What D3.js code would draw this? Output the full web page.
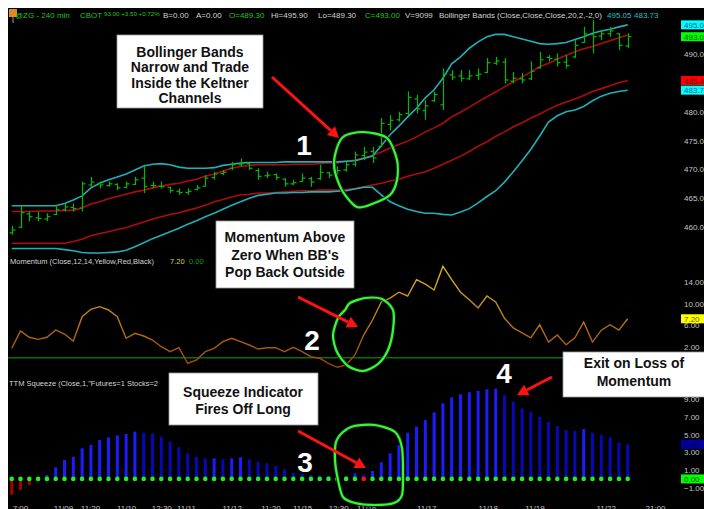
<!DOCTYPE html>
<html><head><meta charset="utf-8">
<script src="https://cdn.jsdelivr.net/npm/d3@7"></script>
<style>
html,body{margin:0;padding:0;background:#fff;}
svg{display:block;}
text{font-family:"Liberation Sans",Arial,sans-serif;}
</style></head><body>
<svg id="chart" width="704" height="509"></svg>
<script>
// ---------------- DATA ----------------
const opens  = [459.0,460.0,462.3,461.6,461.4,462.2,463.0,463.4,463.3,467.3,467.6,467.2,467.4,466.9,467.4,468.5,467.2,467.1,466.9,466.2,466.0,466.5,467.1,468.6,469.3,470.2,470.8,471.0,469.8,468.9,469.1,468.3,467.5,467.9,468.4,468.4,469.4,
                469.2,469.9,470.9,472.4,473.1,474.0,477.8,478.6,479.7,482.2,480.2,481.9,481.2,486.4,486.2,485.7,486.3,486.8,488.4,488.6,485.3,485.7,485.7,487.6,489.4,489.1,488.6,489.5,492.0,493.4,493.1,493.5,493.5,491.4];
const highs  = [460.2,463.8,462.7,462.7,462.4,463.8,464.1,464.1,467.9,468.7,467.9,467.9,467.6,467.9,468.7,470.8,467.9,467.9,467.0,466.7,466.7,467.3,469.0,469.6,469.9,471.3,471.9,471.1,470.2,469.6,469.3,468.5,468.2,469.3,468.7,470.8,469.6,
                470.5,471.3,473.1,473.9,473.9,478.9,479.4,480.0,483.5,482.9,482.0,483.5,487.5,487.2,487.2,487.2,487.5,489.3,489.5,489.3,486.9,486.7,488.7,490.4,489.8,490.1,489.8,492.4,494.7,495.9,494.2,494.7,493.6,493.6];
const lows   = [458.7,459.8,461.0,461.0,461.0,462.1,462.7,462.7,462.7,467.0,466.7,467.0,466.4,466.7,467.3,465.9,466.7,466.7,465.9,465.6,465.6,466.4,467.0,468.2,469.0,469.9,470.5,469.9,468.2,468.5,468.2,467.0,467.3,467.9,467.0,468.2,468.5,
                469.0,469.6,470.5,471.6,471.1,473.9,476.8,478.3,479.4,479.7,478.6,481.7,480.3,485.5,485.2,485.5,485.5,486.7,488.1,484.9,484.9,484.9,485.5,487.5,488.7,487.8,487.5,489.3,491.9,490.1,492.4,493.0,490.7,491.0];
const closes = [459.5,462.5,461.8,461.5,461.8,463.0,463.5,463.2,467.5,467.8,467.3,467.5,466.8,467.5,468.2,467.0,467.2,467.0,466.3,466.0,466.2,466.8,468.5,469.2,469.5,470.8,471.0,470.2,468.8,469.0,468.6,467.5,467.7,468.5,467.8,469.5,469.0,
                469.8,470.8,472.5,473.0,472.0,478.0,478.5,479.5,482.5,480.5,481.0,483.0,486.5,486.0,485.8,486.2,486.5,488.5,488.8,485.5,485.8,485.5,487.0,489.0,489.2,488.5,488.0,491.5,493.5,493.0,493.5,494.0,491.5,493.0];
const bbUpper = [463.7,463.7,463.7,463.7,463.7,463.7,464.1,464.7,465.4,466.8,467.6,468.2,468.7,469.2,469.9,470.6,470.9,471.0,470.8,470.4,470.2,470.2,470.2,470.3,470.7,470.9,471.1,471.2,471.2,471.2,471.2,471.3,471.3,471.3,471.3,471.3,471.3,471.3,471.4,471.5,
                 471.9,472.3,474.1,476.0,477.5,479.1,480.6,482.4,483.8,485.8,488.3,489.5,491.0,492.1,493.0,493.4,493.4,493.0,492.6,492.2,491.8,491.7,491.8,492.0,492.5,493.0,493.6,494.0,494.3,494.7,495.05];
const bbLower = [456.3,456.3,456.3,456.3,456.3,456.3,456.1,455.9,455.6,455.5,455.5,455.6,455.7,456.0,456.6,457.3,458.0,458.6,459.2,459.8,460.5,461.1,461.8,462.4,463.1,463.8,464.4,465.0,465.5,465.7,465.9,465.9,466.0,466.0,466.1,466.1,466.1,466.2,466.3,466.6,
                 466.9,466.9,465.6,464.4,463.7,463.1,462.7,462.4,462.4,462.2,462.1,462.6,463.2,464.2,465.3,466.3,467.8,469.6,471.5,473.5,475.8,478.2,479.3,480.0,480.3,480.9,481.9,482.7,483.2,483.5,483.73];
const kcUpper = [462.7,462.7,462.7,462.8,462.8,462.8,462.9,462.9,463.3,464.0,464.4,464.9,465.3,465.7,466.1,466.4,466.8,467.1,467.4,467.6,468.0,468.3,468.8,469.2,469.7,470.2,470.5,470.7,470.8,470.8,470.8,470.8,470.9,470.9,470.9,471.0,471.1,471.1,471.4,471.6,
                 472.0,472.4,473.0,473.7,474.3,474.9,475.6,476.5,477.2,478.0,479.1,479.9,480.8,481.7,482.6,483.4,484.3,485.2,486.0,486.9,487.8,488.4,489.1,489.8,490.4,490.9,491.3,491.8,492.3,492.8,493.3];
const kcLower = [457.2,457.2,457.2,457.2,457.2,457.2,457.2,457.5,457.9,458.5,458.9,459.2,459.6,459.9,460.4,460.9,461.4,461.8,462.2,462.5,462.9,463.3,463.8,464.4,464.8,465.2,465.6,465.7,465.9,465.9,466.0,466.1,466.2,466.3,466.3,466.4,466.4,466.4,466.5,466.7,
                 467.0,467.3,467.6,468.0,468.3,468.8,469.2,469.6,470.2,470.9,471.6,472.3,473.1,474.0,474.8,475.7,476.5,477.4,478.1,478.9,479.6,480.4,481.1,481.7,482.2,482.8,483.5,484.0,484.5,485.0,485.4];
const momentum = [1.75,4.94,3.78,3.41,3.78,5.13,4.39,3.10,7.58,8.95,9.43,8.82,7.58,3.60,4.52,4.02,3.28,2.05,1.13,1.86,-1.01,-0.41,1.13,1.75,2.97,3.60,2.97,2.36,1.62,1.86,1.86,1.13,1.94,1.13,0.20,-0.09,-1.01,-1.75,-1.33,0.52,
                  4.2,6.97,10.3,11.0,12.1,11.4,14.4,13.6,12.5,16.9,14.4,12.1,10.7,9.2,11.4,10.3,7.3,5.5,4.6,3.7,6.1,2.9,4.2,2.4,3.7,6.6,2.9,5.1,6.1,5.1,7.2];
const squeeze = [-1.8,-1.25,-0.7,0.1,0.44,1.3,2.13,2.5,3.45,3.82,4.38,4.68,4.9,5.06,5.32,5.2,5.13,4.76,4.2,3.56,2.88,2.5,2.32,2.32,2.2,2.32,2.43,2.2,1.94,1.76,1.45,1.08,0.7,0.55,0.45,0.4,0.35,0.3,0.3,0.63,
                 0.5,0.89,1.87,2.88,3.82,5.2,5.88,6.64,7.5,8.51,9.19,9.53,9.76,9.9,10.1,10.16,9.45,8.7,7.95,7.57,7.0,6.44,5.96,5.51,5.4,5.62,5.2,4.95,4.68,4.08,3.9];
const squeezeOn = [40];
const priceTicks = [460,465,470,475,480,490];
const momTicks = [2,6,10,14];
const sqzTicks = [-1,1,3,5,7,9];
const xTickPos = [0.94,5.83,8.9,13.0,17.0,19.8,25.0,29.4,33.0,37.1,40.3,47.1,54.1,59.4,67.5,73.1];
const xTickLabels = ["7:00","11/09","11:20","11/10","12:30","11/11","11/12","11:20","11/15","12:30","11/16","11/17","11/18","11/19","11/22","21:00"];

// ---------------- CHART ----------------
const W = 704, H = 509;
const svg = d3.select("#chart");
const n = closes.length, last = n - 1;
svg.append("rect").attr("width", W).attr("height", H).attr("fill", "#fff");
svg.append("rect").attr("x", 8).attr("y", 8).attr("width", W - 8).attr("height", H - 8).attr("fill", "#000");

const x = d3.scaleLinear().domain([0, 70]).range([11.7, 627.7]);
const yP = d3.scaleLinear().domain([460, 490]).range([227.1, 54]);
const yM = d3.scaleLinear().domain([0, 14]).range([357.8, 281.9]);
const yS = d3.scaleLinear().domain([0, 9]).range([478.9, 399]);

const defs = svg.append("defs");
function clip(id, y0, y1) {
  defs.append("clipPath").attr("id", id).append("rect").attr("x", 8).attr("y", y0).attr("width", 672).attr("height", y1 - y0);
}
clip("cp", 8, 256); clip("cm", 256, 377); clip("cs", 377, 498);

// price panel
const gp = svg.append("g").attr("clip-path", "url(#cp)");
const band = d3.line().x((d, i) => x(i)).y(d => yP(d));
[[kcUpper, "#b00c0c"], [kcLower, "#b00c0c"], [bbUpper, "#1fb0b8"], [bbLower, "#1fb0b8"]].forEach(([arr, c]) => {
  gp.append("path").attr("d", band(arr)).attr("fill", "none").attr("stroke", c).attr("stroke-width", 1.6);
});
const barG = gp.append("g").attr("stroke", "#06b806").attr("stroke-width", 1.2);
closes.forEach((c, i) => {
  const cx = Math.round(x(i)) + 0.5;
  barG.append("line").attr("x1", cx).attr("x2", cx).attr("y1", yP(highs[i])).attr("y2", yP(lows[i]));
  barG.append("line").attr("x1", cx - 3).attr("x2", cx).attr("y1", yP(opens[i])).attr("y2", yP(opens[i]));
  barG.append("line").attr("x1", cx).attr("x2", cx + 3).attr("y1", yP(c)).attr("y2", yP(c));
});

// momentum panel
const gm = svg.append("g").attr("clip-path", "url(#cm)");
const grad = defs.append("linearGradient").attr("id", "mg").attr("gradientUnits", "userSpaceOnUse")
  .attr("x1", 0).attr("x2", 0).attr("y1", yM(16)).attr("y2", yM(-1));
grad.append("stop").attr("offset", "0%").attr("stop-color", "#e0b41c");
grad.append("stop").attr("offset", "100%").attr("stop-color", "#9a4410");
gm.append("line").attr("x1", 8).attr("x2", 680).attr("y1", yM(0)).attr("y2", yM(0)).attr("stroke", "#0b6e0b").attr("stroke-width", 1.6);
gm.append("path").attr("d", d3.line().x((d, i) => x(i)).y(d => yM(d))(momentum))
  .attr("fill", "none").attr("stroke", "url(#mg)").attr("stroke-width", 1.4);

// squeeze panel
const gs = svg.append("g").attr("clip-path", "url(#cs)");
squeeze.forEach((v, i) => {
  const prev = i > 0 ? squeeze[i - 1] : v;
  const col = v < 0 ? "#a00000" : (v >= prev ? "#1c1cff" : "#0808b8");
  gs.append("rect").attr("x", x(i) - 1.5).attr("width", 3)
    .attr("y", yS(Math.max(0, v))).attr("height", Math.abs(yS(v) - yS(0))).attr("fill", col);
});
squeeze.forEach((v, i) => {
  gs.append("circle").attr("cx", x(i)).attr("cy", yS(0)).attr("r", 2.3)
    .attr("fill", squeezeOn.includes(i) ? "#ff1010" : "#22ee22");
});

// axes
function styleAxis(g, size) {
  g.select(".domain").remove();
  g.selectAll("text").attr("fill", "#c4c4c4").style("font-size", size + "px").style("font-family", "Liberation Sans, Arial, sans-serif");
}
svg.append("g").attr("transform", "translate(683,0)")
  .call(d3.axisRight(yP).tickValues(priceTicks).tickSize(0).tickPadding(1).tickFormat(d3.format(".2f")))
  .call(g => styleAxis(g, 8));
svg.append("g").attr("transform", "translate(683,0)")
  .call(d3.axisRight(yM).tickValues(momTicks).tickSize(0).tickPadding(1).tickFormat(d3.format(".2f")))
  .call(g => styleAxis(g, 8));
svg.append("g").attr("transform", "translate(683,0)")
  .call(d3.axisRight(yS).tickValues(sqzTicks).tickSize(0).tickPadding(1).tickFormat(d3.format(".2f")))
  .call(g => styleAxis(g, 8));
svg.append("g").attr("transform", "translate(0,505)")
  .call(d3.axisBottom(x).tickValues(xTickPos).tickSize(0).tickPadding(0).tickFormat((d, i) => xTickLabels[i]))
  .call(g => styleAxis(g, 8));

// value boxes on the right axis
function valBox(y, v, bg, fg) {
  svg.append("rect").attr("x", 681).attr("y", y - 4.5).attr("width", 24).attr("height", 9).attr("fill", bg);
  svg.append("text").attr("x", 684).attr("y", y + 3).attr("fill", fg).style("font-size", "8px").text(d3.format(".2f")(v));
}
valBox(yP(bbUpper[last]), bbUpper[last], "#00ffff", "#106090");
valBox(yP(closes[last]), closes[last], "#00ff00", "#005000");
valBox(yP(kcLower[last]), kcLower[last], "#ff0000", "#600000");
valBox(yP(bbLower[last]), bbLower[last], "#00ffff", "#106090");
valBox(yM(momentum[last]), momentum[last], "#ffff00", "#706000");
valBox(yS(squeeze[last]), squeeze[last], "#0000a0", "#000050");
valBox(yS(0), 0, "#00ff00", "#005000");

// header
svg.append("rect").attr("x", 9).attr("y", 9).attr("width", 8).attr("height", 8).attr("fill", "#e08a1e");
svg.append("line").attr("x1", 13).attr("x2", 13).attr("y1", 17).attr("y2", 23).attr("stroke", "#999");
const G = "#22c422", Wt = "#d4d4d4", C = "#20c4cc";
const hdr = [
  [15, "@ZG - 240 min", G, 8], [80, "CBOT", G, 8], [104, "93.00  +3.50  +0.72%", G, 6.2],
  [163, "B=0.00", Wt, 8], [196, "A=0.00", Wt, 8], [229, "O=489.30", G, 8], [271, "Hi=495.90", Wt, 8], [318, "Lo=489.30", Wt, 8],
  [365, "C=" + d3.format(".2f")(closes[last]), G, 8], [405, "V=9099", Wt, 8], [439, "Bollinger Bands", Wt, 8],
  [497, "(Close,Close,Close,20,2,-2,0)", Wt, 8],
  [607, d3.format(".2f")(bbUpper[last]), C, 8], [634, d3.format(".2f")(bbLower[last]), C, 8]
];
hdr.forEach(([hx, t, c, fs]) => svg.append("text").attr("x", hx).attr("y", fs < 7 ? 16 : 18).attr("fill", c).style("font-size", fs + "px").text(t));

// indicator labels
svg.append("text").attr("x", 10).attr("y", 264).attr("fill", Wt).style("font-size", "7.5px").text("Momentum  (Close,12,14,Yellow,Red,Black)");
svg.append("text").attr("x", 170).attr("y", 264).attr("fill", "#d8d800").style("font-size", "7.5px").text(d3.format(".2f")(momentum[last]));
svg.append("text").attr("x", 189).attr("y", 264).attr("fill", "#10a010").style("font-size", "7.5px").text("0.00");
svg.append("text").attr("x", 9).attr("y", 386).attr("fill", Wt).style("font-size", "7.5px").text('TTM Squeeze  (Close,1,"Futures=1 Stocks=2');

// ---------------- ANNOTATIONS ----------------
const loop = d3.line().curve(d3.curveCardinalClosed.tension(0.2));
const circles = [
  [[343,137],[363,132],[387,138],[397,160],[397,180],[390,195],[372,204],[357,207],[343,192],[335,172],[335,155]],
  [[350,303],[365,298],[382,299],[393,310],[393,330],[388,350],[378,364],[363,371],[348,366],[337,352],[333,335],[338,318],[345,310]],
  [[343,432],[354,426],[375,425],[395,432],[402,448],[403,475],[402,495],[394,503],[375,505],[355,503],[343,497],[338,480],[335,460],[336,442]]
];
circles.forEach(p => {
  svg.append("path").attr("d", loop(p)).attr("fill", "none").attr("stroke", "#222").attr("stroke-width", 4);
  svg.append("path").attr("d", loop(p)).attr("fill", "none").attr("stroke", "#2cff2c").attr("stroke-width", 2.2);
});
function arrow(x1, y1, x2, y2) {
  const a = Math.atan2(y2 - y1, x2 - x1), L = 11, hw = 6;
  const bx = x2 - L * Math.cos(a), by = y2 - L * Math.sin(a);
  svg.append("line").attr("x1", x1).attr("y1", y1).attr("x2", bx).attr("y2", by).attr("stroke", "#ff1212").attr("stroke-width", 3);
  svg.append("path").attr("d", `M${x2},${y2}L${bx + hw * Math.sin(a)},${by - hw * Math.cos(a)}L${bx - hw * Math.sin(a)},${by + hw * Math.cos(a)}Z`).attr("fill", "#ff1212");
}
arrow(272, 77, 339, 138);
arrow(298, 297, 358, 327);
arrow(298, 431, 366, 468);
arrow(552, 377, 517, 395);

function note(bx, by, bw, bh, cx, lines, base, step) {
  svg.append("rect").attr("x", bx).attr("y", by).attr("width", bw).attr("height", bh).attr("fill", "#fff").attr("stroke", "#9a9a9a").attr("stroke-width", 0.8);
  lines.forEach((t, i) => svg.append("text").attr("x", cx).attr("y", base + i * step).attr("text-anchor", "middle")
    .attr("fill", "#111").style("font-size", "14px").style("font-weight", "bold").text(t));
}
note(117, 35, 146, 73, 190, ["Bollinger Bands", "Narrow and Trade", "Inside the Keltner", "Channels"], 57, 15.3);
note(216, 221, 138, 67, 285, ["Momentum Above", "Zero When BB's", "Pop Back Outside"], 242, 17.7);
note(169, 373, 149, 52, 243, ["Squeeze Indicator", "Fires Off Long"], 397, 16.5);
note(563, 352, 142, 45, 634, ["Exit on Loss of", "Momentum"], 368, 18);

[[304, 155, "1"], [312, 350, "2"], [305, 472, "3"], [504, 383, "4"]].forEach(([nx, ny, t]) => {
  svg.append("text").attr("x", nx).attr("y", ny).attr("text-anchor", "middle").attr("fill", "#fff")
    .style("font-size", "28px").style("font-weight", "bold").text(t);
});
</script>
</body></html>
